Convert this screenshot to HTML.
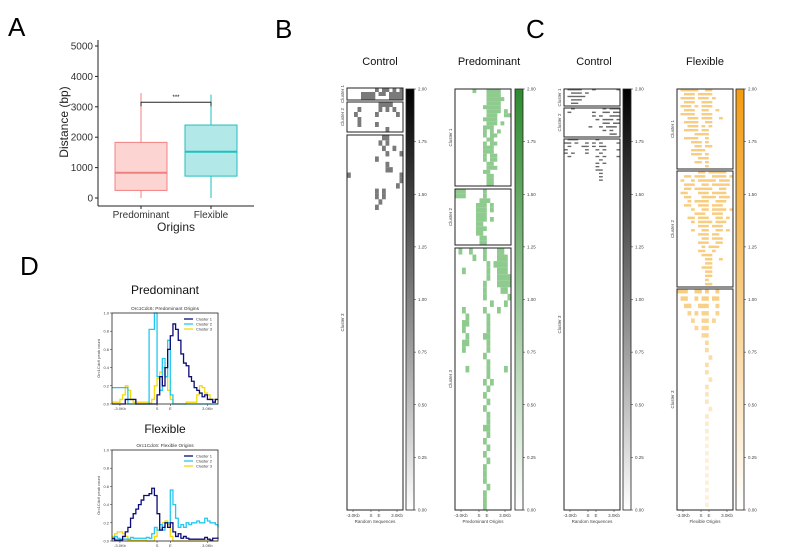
<!DOCTYPE html>
<html><head><meta charset="utf-8"><style>
html,body{margin:0;padding:0;background:#fff}
svg{display:block;font-family:"Liberation Sans",sans-serif}
</style></head><body>
<svg id="fig" width="797" height="548" viewBox="0 0 797 548" xmlns="http://www.w3.org/2000/svg">
<text x="8" y="36" font-size="26">A</text>
<text x="275" y="38" font-size="26">B</text>
<text x="526" y="38" font-size="26">C</text>
<text x="20" y="275" font-size="26">D</text>
<g id="A"></g>
<g id="H"></g>
<g id="D"></g>
</svg>
<script>
// ---- Panel A data ----
const boxCats = ["Predominant","Flexible"];
const boxLow = [0, 0];
const boxQ1 = [250, 720];
const boxMed = [830, 1520];
const boxQ3 = [1830, 2400];
const boxHigh = [3450, 3400];
const yTicksA = [0,1000,2000,3000,4000,5000];
const sigY = 3150;

// ---- Panel D data ----
const predNavy = [0,0,0,0,0,0.05,0.05,0.05,0.05,0,0,0,0,0,0,0,0,0.1,0.3,0.2,0.4,0.6,0.75,0.88,0.82,0.7,0.55,0.45,0.42,0.3,0.25,0.18,0.15,0.12,0.08,0.1,0.05,0.05,0.02,0.05,0.05];
const predCyan = [0.18,0.18,0.18,0.18,0.18,0.18,0,0,0,0,0,0,0,0,0.82,0.82,1.0,0.3,0.15,0.5,0.3,0.7,0.1,0,0,0,0,0,0,0,0,0,0,0,0,0,0,0,0,0,0];
const predYellow = [0.02,0.02,0.02,0.05,0.1,0.2,0.15,0.05,0.02,0.02,0.02,0.02,0.02,0.02,0.01,0.05,0.2,0.28,0.35,0.4,0.3,0.15,0.05,0,0,0,0,0,0.02,0.02,0.02,0.02,0.1,0.2,0.18,0.12,0.1,0.05,0.05,0.05,0.05];
const flexNavy = [0.03,0.01,0.01,0.01,0.05,0.1,0.15,0.25,0.3,0.35,0.4,0.45,0.5,0.5,0.52,0.58,0.5,0.3,0.12,0.15,0.2,0.15,0.2,0.1,0.05,0.08,0.03,0.05,0.03,0.02,0.02,0.02,0.02,0.02,0.02,0.04,0.02,0.01,0.03,0.03,0.04];
const flexCyan = [0.02,0.05,0.03,0.02,0.02,0.02,0.02,0.04,0.03,0.03,0.03,0.03,0.03,0.04,0.03,0.08,0.15,0.12,0.18,0.12,0.2,0.2,0.56,0.4,0.25,0.15,0.18,0.15,0.2,0.18,0.2,0.2,0.22,0.2,0.2,0.25,0.22,0.2,0.2,0.18,0.15];
const flexYellow = [0.05,0.08,0.1,0.1,0.08,0.05,0.01,0.01,0.01,0.01,0.01,0.01,0.01,0,0,0,0.05,0.12,0.18,0.2,0.22,0.18,0.05,0,0,0,0,0,0,0,0,0,0,0,0,0,0,0,0,0,0];
const yTicksD = [0,0.2,0.4,0.6,0.8,1.0];
const xTicksD = ["-3.0Kb","S","E","3.0Kb"];
const xTickIdx = [3,17,22,36];

// ---- Heatmap grids ----
const bCtrl1 = ["........#.##.#.#","....####.##.####","....####....####"];
const bCtrl2 = [".........####...","...#.....#.#.#..","..#.....#.....#.","...#............","...#....#.......","...........#...."];
const bCtrl3 = ["..........##....",".........#.#....","..........#..#..","...........#...#","........#.......","...........#....","...........##...","#..............#","...............#","..............#.","........#.#.....","........#.#.....",".........#......","........#......."];
const pred1 = [".....#...####...",".........####...",".........#####..",".........####...","........#####...",".........####.#.",".........###..##","........####....",".........###.#..","........###.....","........#.#.#...","........#.##....",".........##.....","........#.##....","........###.....","........###.....","........#.##....","........#.##....",".........##.....",".........###....","........##......",".........##.....",".........##.....",".........##....."];
const pred2 = ["###.....#.......","###.....#.......",".......###......","......###.#.....","......###.#.....","......###.......","......###.#.....","......##........","......###.......","......##........",".......##.......",".......##......."];
const pred3 = [".#..#...#...##..",".....#..#...###.",".........#.####.","..#......#..###.",".........#..####","........#...####","........#....##.","........#......#","..........#...#.","..#.....#...#...","...#.....#......","..##.....#......","..#......#......","...#....##......","..##.....#......","..#......#......","........#.......",".........#......","...#.....#....#.",".........#......","........#.#.....",".........#......","........#.......",".........#......","........#.......",".........#......",".........#......","........##......",".........#......","........#.......",".........#......","........#.......",".........#......","........#.......","........#.......","........#.......",".........#......","........#.......","........#.......","........#......."];
const cCtrl1 = [".####...#......#","..###.#.........",".#####..........","..###...........","..##............"];
const cCtrl2 = ["..#........#.###",".#......#..##.##","........#.#..###",".........#.###.#","...........##.##",".......#..#.###.","...........#.#..",".............##."];
const cCtrl3 = [".###.....#......","##.#..#.#.#....#",".#...##.#.##....","#.....#..#.#...#","#.#...#...#.....",".#.......#.#...#","..........#.....",".........#.#....",".........#......",".........##.....","..........#.....","..........#.....","..........#....."];
const flex1 = [".#####..##......","..###.####......",".####.###.#.....","..###..###......",".###.#.###......","..###..##..#....",".####..###......","...###.###..#...","..####..##......","...###.#.#......","..####.##.......",".....####.......","..####..#.......","....###.#.......",".....##.##......","....####........","....###.#.......","......###.......",".....##.#.......","........#......."];
const flex2 = ["......##.#####..","..##.###..####.#",".#..#.#####.###.","..###..##.#####.","..##.#####..##..",".##...###.####..","..##...####.###.","...#.####..###..","..##..###.###...","....#..##.####.#",".....###..###...","...##.###..##.#.","....#.####.###..","......###.###...","....#..##..##.#.","......###.##....",".......##.###...","......###..##...",".......#.###....","......##..#.....",".......###......","........##..#...","........##......",".......###......","........##......","........##......","........#.......","........##......"];
const flex3 = ["###..##.#..#....",".##..#.##.##....","..##..###..#....","...#.#.##..#....","....#..##.#.....",".....#.##.......",".......##.......","........#.......","........#.......",".........#......","........#.......","........#.......",".........#......","........#.......","........#.......","........#.......",".........#......","........#.......","........#.......","........#.......","........#.......","........#.......","........#.......","........#.......","........#.......","........#.......","........#.......","........#.......","........#.......","........#......."];
const cbTicks = ["0.00","0.25","0.50","0.75","1.00","1.25","1.50","1.75","2.00"];

const NS="http://www.w3.org/2000/svg";
function mk(parent, tag, attrs, text){
  const e=document.createElementNS(NS,tag);
  for(const k in attrs) e.setAttribute(k,attrs[k]);
  if(text!==undefined) e.textContent=text;
  parent.appendChild(e); return e;
}

// ===== Panel A =====
(function(){
  const g=document.getElementById('A');
  const y0=198, y1=46;
  const ys=v=>y0-(v/5000)*(y0-y1);
  const xc=[141,211], bw=52;
  const cols=[["#f08080","#fcd5d3"],["#1fbfbf","#b2e8e8"]];
  let l=mk(g,'line',{x1:98,y1:40,x2:98,y2:206,stroke:'#222','stroke-width':1});
   
  l=mk(g,'line',{x1:98,y1:206,x2:254,y2:206,stroke:'#222','stroke-width':1});
   
  yTicksA.forEach(v=>{
    mk(g,'line',{x1:95,y1:ys(v),x2:98,y2:ys(v),stroke:'#222'});
    const t=mk(g,'text',{x:93,y:ys(v)+3.5,'font-size':10,'text-anchor':'end',fill:'#333'},v);
     
  });
  boxCats.forEach((c,i)=>{
    const [st,fi]=cols[i];
    const w=mk(g,'line',{x1:xc[i],y1:ys(boxLow[i]),x2:xc[i],y2:ys(boxHigh[i]),stroke:st,'stroke-width':1});
     
    const b=mk(g,'rect',{x:xc[i]-bw/2,y:ys(boxQ3[i]),width:bw,height:ys(boxQ1[i])-ys(boxQ3[i]),fill:fi,stroke:st,'stroke-width':1});
     
    const m=mk(g,'line',{x1:xc[i]-bw/2,y1:ys(boxMed[i]),x2:xc[i]+bw/2,y2:ys(boxMed[i]),stroke:st,'stroke-width':2});
     
    mk(g,'line',{x1:xc[i],y1:206,x2:xc[i],y2:209,stroke:'#222'});
    const t=mk(g,'text',{x:xc[i],y:218,'font-size':10,'text-anchor':'middle',fill:'#333'},c);
     
  });
  const br=mk(g,'path',{d:`M${xc[0]} ${ys(sigY)+4}V${ys(sigY)}H${xc[1]}V${ys(sigY)+4}`,fill:'none',stroke:'#222'});
   
  const s=mk(g,'text',{x:(xc[0]+xc[1])/2,y:ys(sigY)-3,'font-size':6,'text-anchor':'middle'},'***');
   
  let t=mk(g,'text',{x:176,y:231,'font-size':12,'text-anchor':'middle',fill:'#222'},'Origins');
   
  t=mk(g,'text',{x:0,y:0,'font-size':12,'text-anchor':'middle',fill:'#222',transform:'translate(68,122) rotate(-90)'},'Distance (bp)');
   
})();

// ===== Heatmaps =====
(function(){
  const g=document.getElementById('H');
  const panels=[
    {title:'Control',tx:380,x:347,cb:406,color:'#7a7a7a',grad:['#000','#fff'],xl:'Random Sequences',hf:1,
     cl:[[88,100,bCtrl1,'Cluster 1'],[102,132,bCtrl2,'Cluster 2'],[135,510,bCtrl3,'Cluster 3']],rows3:70},
    {title:'Predominant',tx:489,x:455,cb:515,color:'#8fca8f',grad:['#2e8b2e','#fff'],xl:'Predominant Origins',hf:1,
     cl:[[89,186,pred1,'Cluster 1'],[189,245,pred2,'Cluster 2'],[248,510,pred3,'Cluster 3']],rows3:40},
    {title:'Control',tx:594,x:564,cb:623,color:'#666',grad:['#000','#fff'],xl:'Random Sequences',hf:0.4,
     cl:[[89,106,cCtrl1,'Cluster 1'],[108,137,cCtrl2,'Cluster 2'],[139,510,cCtrl3,'Cluster 3']],rows3:110},
    {title:'Flexible',tx:705,x:677,cb:736,color:'#f9cd80',grad:['#f39c12','#fff'],xl:'Flexible Origins',hf:0.6,
     cl:[[89,169,flex1,'Cluster 1'],[171,287,flex2,'Cluster 2'],[289,510,flex3,'Cluster 3']],rows3:30}
  ];
  const W=56;
  panels.forEach((p,pi)=>{
    const gp=mk(g,'g',{});
     
    const tt=mk(gp,'text',{x:p.tx,y:65,'font-size':11,'text-anchor':'middle',fill:'#111'},p.title);
     
    p.cl.forEach((c,ci)=>{
      const [ya,yb,grid,name]=c;
      const nr=(ci===2)?p.rows3:grid.length;
      const rh=(yb-ya)/nr, cw=W/16;
      grid.forEach((row,r)=>{
        for(let k=0;k<row.length;k++){
          if(row[k]==='#'){
            const op=(pi===3&&ci===2)?Math.max(0.3,1-r/nr):1;
            const cell=mk(gp,'rect',{x:p.x+k*cw,y:ya+r*rh,width:cw+0.3,height:Math.max(0.8,rh*p.hf),fill:p.color,opacity:op});
             
          }
        }
      });
      const bx=mk(gp,'rect',{x:p.x,y:ya,width:W,height:yb-ya,fill:'none',stroke:'#222','stroke-width':1});
       
      const lb=mk(gp,'text',{x:0,y:0,'font-size':4.5,'text-anchor':'middle',fill:'#444',transform:`translate(${p.x-3},${(ya+yb)/2}) rotate(-90)`},name);
       
    });
    const gid='gr'+pi;
    const defs=mk(gp,'defs',{});
    const lg=mk(defs,'linearGradient',{id:gid,x1:0,y1:0,x2:0,y2:1});
    mk(lg,'stop',{offset:0,'stop-color':p.grad[0]});
    mk(lg,'stop',{offset:1,'stop-color':p.grad[1]});
    const cb=mk(gp,'rect',{x:p.cb,y:89,width:8,height:421,fill:`url(#${gid})`,stroke:'#222','stroke-width':0.8});
     
    cbTicks.forEach((v,i)=>{
      const y=510-i*(421/(cbTicks.length-1));
      mk(gp,'line',{x1:p.cb+8,y1:y,x2:p.cb+10,y2:y,stroke:'#222','stroke-width':0.5});
      const t=mk(gp,'text',{x:p.cb+12,y:y+1.5,'font-size':4.5,fill:'#444'},v);
       
    });
    const xt=[['-3.0Kb',p.x+6],['S',p.x+24],['E',p.x+32],['3.0Kb',p.x+50]];
    xt.forEach(([s,x])=>{
      mk(gp,'line',{x1:x,y1:510,x2:x,y2:512,stroke:'#222','stroke-width':0.5});
      const t=mk(gp,'text',{x:x,y:517,'font-size':4.5,'text-anchor':'middle',fill:'#444'},s);
       
    });
    const xl=mk(gp,'text',{x:p.x+W/2,y:523,'font-size':4.5,'text-anchor':'middle',fill:'#444'},p.xl);
     
  });
})();

// ===== Panel D =====
(function(){
  const g=document.getElementById('D');
  const plots=[
    {title:'Predominant',sub:'Orc1Cdc6: Predominant Origins',ty:294,top:313,bot:404,series:[predNavy,predCyan,predYellow]},
    {title:'Flexible',sub:'Orc1Cdc6:  Flexible Origins',ty:433,top:450,bot:541,series:[flexNavy,flexCyan,flexYellow]}
  ];
  const colors=['#0b0b7a','#22c8f0','#f5d90a'];
  const names=['Cluster 1','Cluster 2','Cluster 3'];
  const x0=112,x1=218;
  plots.forEach((p,pi)=>{
    const gp=mk(g,'g',{});
     
    let t=mk(gp,'text',{x:165,y:p.ty,'font-size':12,'text-anchor':'middle',fill:'#111'},p.title);
     
    t=mk(gp,'text',{x:165,y:p.top-3,'font-size':4.8,'text-anchor':'middle',fill:'#333'},p.sub);
     
    const n=p.series[0].length;
    const xs=i=>x0+i*(x1-x0)/(n-1);
    const ys=v=>p.bot-v*(p.bot-p.top);
    yTicksD.forEach(v=>{
      mk(gp,'line',{x1:x0-2,y1:ys(v),x2:x0,y2:ys(v),stroke:'#222','stroke-width':0.5});
      const tk=mk(gp,'text',{x:x0-3,y:ys(v)+1.5,'font-size':4,'text-anchor':'end',fill:'#444'},v.toFixed(1));
       
    });
    xTicksD.forEach((s,i)=>{
      const x=xs(xTickIdx[i]);
      mk(gp,'line',{x1:x,y1:p.bot,x2:x,y2:p.bot+2,stroke:'#222','stroke-width':0.5});
      const tk=mk(gp,'text',{x:x,y:p.bot+6,'font-size':4,'text-anchor':'middle',fill:'#444'},s);
       
    });
    const yl=mk(gp,'text',{x:0,y:0,'font-size':4,'text-anchor':'middle',fill:'#444',transform:`translate(${x0-12},${(p.top+p.bot)/2}) rotate(-90)`},'Orc1Cdc6 peak count');
     
    [2,1,0].forEach(si=>{
      const d=p.series[si];
      let path='M'+xs(0)+' '+ys(d[0]);
      for(let i=1;i<n;i++){ path+=` H${xs(i)} V${ys(d[i])}`; }
      const pl=mk(gp,'path',{d:path,fill:'none',stroke:colors[si],'stroke-width':1.3});
       
    });
    const fr=mk(gp,'rect',{x:x0,y:p.top,width:x1-x0,height:p.bot-p.top,fill:'none',stroke:'#222','stroke-width':0.8});
     
    names.forEach((nm,i)=>{
      const ly=p.top+6+i*5;
      const le=mk(gp,'line',{x1:184,y1:ly,x2:193,y2:ly,stroke:colors[i],'stroke-width':1.3});
       
      const lt=mk(gp,'text',{x:196,y:ly+1.5,'font-size':4,fill:'#333'},nm);
       
    });
  });
})();
</script>
</body></html>
